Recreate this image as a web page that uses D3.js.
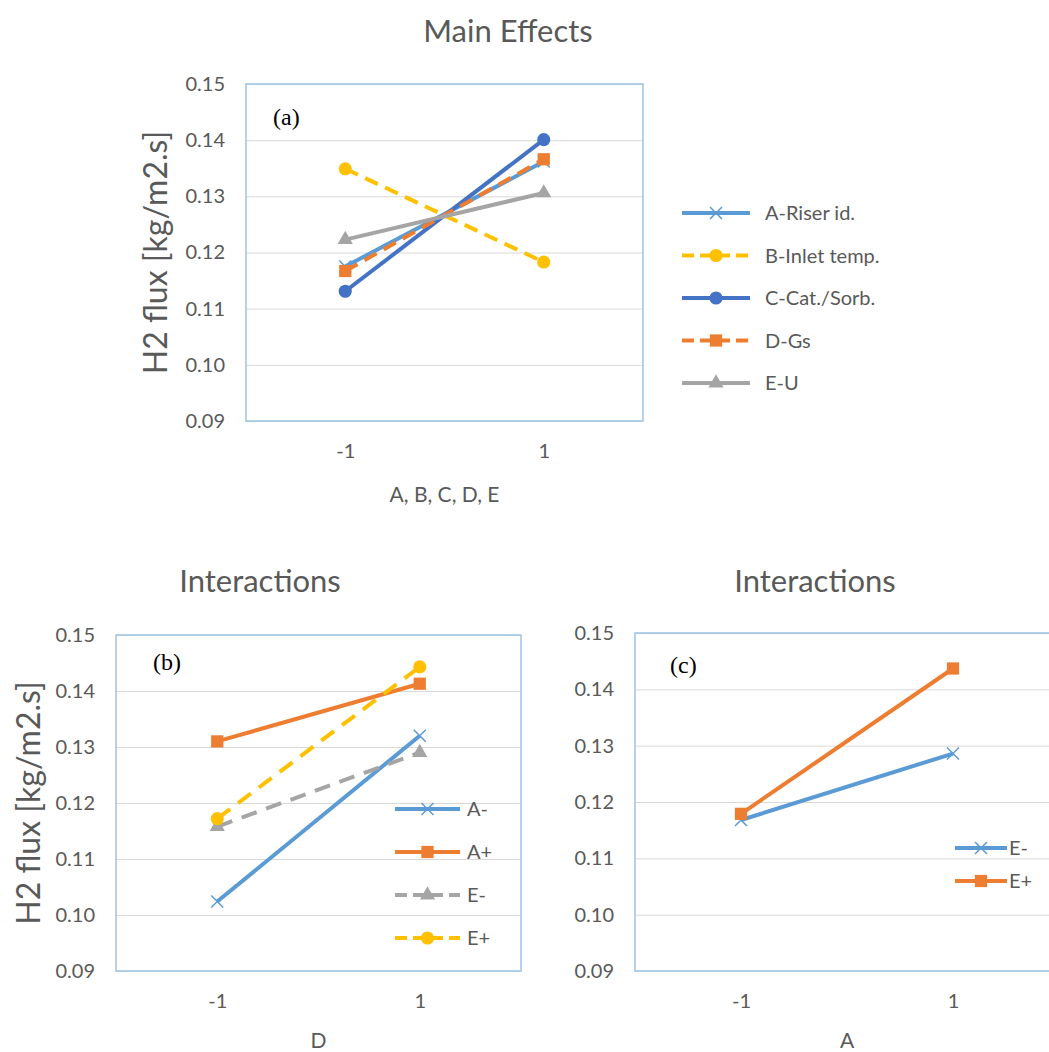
<!DOCTYPE html>
<html>
<head>
<meta charset="utf-8">
<script src="https://cdn.jsdelivr.net/npm/d3@7"></script>
<style>
  html, body { margin: 0; padding: 0; background: #fff; overflow: hidden; }
  svg { display: block; font-family: Lato, "Open Sans", sans-serif; }
</style>
</head>
<body>
<svg id="chart" width="1049" height="1052"></svg>
<script>
"use strict";

// factor levels and y ticks
var levels = ["-1", "1"];
var yTicks = [0.09, 0.10, 0.11, 0.12, 0.13, 0.14, 0.15];

// (a) main effects
var mainNames = ["A-Riser id.", "B-Inlet temp.", "C-Cat./Sorb.", "D-Gs", "E-U"];
var mainRiser = [0.1175, 0.1362];
var mainInlet = [0.1349, 0.1183];
var mainCatSorb = [0.1131, 0.1401];
var mainGs = [0.1167, 0.1366];
var mainU = [0.1223, 0.1306];

// (b) interactions vs D
var interDNames = ["A-", "A+", "E-", "E+"];
var dAminus = [0.1024, 0.1320];
var dAplus = [0.1310, 0.1413];
var dEminus = [0.1158, 0.1290];
var dEplus = [0.1172, 0.1443];

// (c) interactions vs A
var interANames = ["E-", "E+"];
var aEminus = [0.1168, 0.1286];
var aEplus = [0.1179, 0.1437];

var textGrey = "#595959";
var svg = d3.select("#chart");

function xMarker(g, size, color) {
	var h = size / 2;
	g.append("path")
		.attr("d", "M" + (-h) + "," + (-h) + "L" + h + "," + h + "M" + (-h) + "," + h + "L" + h + "," + (-h))
		.attr("stroke", color)
		.attr("stroke-width", 1.5)
		.attr("fill", "none");
}

function drawMarker(g, type, color) {
	if (type === "x") {
		xMarker(g, 12, color);
		return;
	}
	var sym = { circle: d3.symbolCircle, square: d3.symbolSquare, triangle: d3.symbolTriangle }[type];
	var sz = { circle: 135, square: 150, triangle: 100 }[type];
	g.append("path")
		.attr("d", d3.symbol().type(sym).size(sz)())
		.attr("fill", color);
}

function drawPanel(p) {
	var x = d3.scalePoint().domain(levels).range([p.left, p.right]).padding(0.5);
	var y = d3.scaleLinear().domain([0.09, 0.15]).range([p.bottom, p.top]);
	var g = svg.append("g");

	// gridlines
	g.append("g")
		.attr("transform", "translate(" + p.left + ",0)")
		.call(d3.axisLeft(y).tickValues(yTicks).tickSize(-(p.right - p.left)).tickFormat(""))
		.call(function (s) {
			s.select(".domain").remove();
			s.selectAll("line").attr("stroke", "#d9d9d9").attr("stroke-width", 1);
		});

	// frame
	g.append("rect")
		.attr("x", p.left).attr("y", p.top)
		.attr("width", p.right - p.left).attr("height", p.bottom - p.top)
		.attr("fill", "none")
		.attr("stroke", "#9dc3e6")
		.attr("stroke-width", 1.5);

	// y tick labels
	g.append("g")
		.attr("transform", "translate(" + p.tickX + ",0)")
		.call(d3.axisLeft(y).tickValues(yTicks).tickSize(0).tickPadding(0).tickFormat(d3.format(".2f")))
		.call(function (s) {
			s.select(".domain").remove();
			s.selectAll("text").attr("fill", textGrey).style("font-size", "20px").style("font-family", "Lato");
		});

	// x tick labels
	g.append("g")
		.attr("transform", "translate(0," + (p.bottom + 23) + ")")
		.call(d3.axisBottom(x).tickSize(0).tickPadding(0))
		.call(function (s) {
			s.select(".domain").remove();
			s.selectAll("text").attr("fill", textGrey).style("font-size", "20px").style("font-family", "Lato");
		});

	// x title
	g.append("text")
		.attr("x", (p.left + p.right) / 2)
		.attr("y", p.xTitleY)
		.attr("text-anchor", "middle")
		.attr("fill", textGrey)
		.style("font-size", "21px")
		.text(p.xTitle);

	// chart title
	g.append("text")
		.attr("x", p.titleX)
		.attr("y", p.titleY)
		.attr("text-anchor", "middle")
		.attr("fill", textGrey)
		.style("font-size", "31px")
		.text(p.title);

	// y title
	if (p.yTitleX) {
		g.append("text")
			.attr("transform", "translate(" + p.yTitleX + "," + ((p.top + p.bottom) / 2) + ") rotate(-90)")
			.attr("text-anchor", "middle")
			.attr("dy", "0.35em")
			.attr("fill", textGrey)
			.style("font-size", "32px")
			.text("H2 flux [kg/m2.s]");
	}

	// panel tag
	g.append("text")
		.attr("x", p.tagX).attr("y", p.tagY)
		.attr("fill", "#000")
		.style("font-family", "'Liberation Serif', serif")
		.style("font-size", "24px")
		.text(p.tag);

	var line = d3.line()
		.x(function (d, i) { return x(levels[i]); })
		.y(function (d) { return y(d); });

	p.series.forEach(function (s) {
		g.append("path")
			.datum(s.values)
			.attr("d", line)
			.attr("fill", "none")
			.attr("stroke", s.color)
			.attr("stroke-width", 4)
			.attr("stroke-dasharray", s.dash || null);
		s.values.forEach(function (v, i) {
			var m = g.append("g").attr("transform", "translate(" + x(levels[i]) + "," + y(v) + ")");
			drawMarker(m, s.marker, s.color);
		});
	});

	// legend
	p.series.forEach(function (s, i) {
		var ly = p.legY + i * p.legStep;
		var lg = g.append("g");
		lg.append("line")
			.attr("x1", p.legX0).attr("x2", p.legX1)
			.attr("y1", ly).attr("y2", ly)
			.attr("stroke", s.color)
			.attr("stroke-width", 4)
			.attr("stroke-dasharray", s.dash ? "12,6" : null);
		var m = lg.append("g").attr("transform", "translate(" + ((p.legX0 + p.legX1) / 2) + "," + ly + ")");
		drawMarker(m, s.marker, s.color);
		lg.append("text")
			.attr("x", p.legTextX).attr("y", ly)
			.attr("dy", "0.35em")
			.attr("fill", textGrey)
			.style("font-size", "20px")
			.text(s.name);
	});
}

drawPanel({
	left: 246, top: 84, right: 643, bottom: 421,
	tickX: 225, xTitle: "A, B, C, D, E", xTitleY: 502,
	title: "Main Effects", titleX: 508, titleY: 42,
	yTitleX: 156, tag: "(a)", tagX: 273, tagY: 125,
	legX0: 682, legX1: 750, legTextX: 765, legY: 213, legStep: 42.5,
	series: [
		{ name: mainNames[0], values: mainRiser, color: "#5b9bd5", marker: "x" },
		{ name: mainNames[1], values: mainInlet, color: "#ffc000", marker: "circle", dash: "14,8" },
		{ name: mainNames[2], values: mainCatSorb, color: "#4472c4", marker: "circle" },
		{ name: mainNames[3], values: mainGs, color: "#ed7d31", marker: "square", dash: "14,8" },
		{ name: mainNames[4], values: mainU, color: "#a5a5a5", marker: "triangle" }
	]
});

drawPanel({
	left: 116, top: 635, right: 521, bottom: 971,
	tickX: 95, xTitle: "D", xTitleY: 1048,
	title: "Interactions", titleX: 260, titleY: 592,
	yTitleX: 29, tag: "(b)", tagX: 153, tagY: 670,
	legX0: 395, legX1: 460, legTextX: 467, legY: 809, legStep: 43,
	series: [
		{ name: interDNames[0], values: dAminus, color: "#5b9bd5", marker: "x" },
		{ name: interDNames[1], values: dAplus, color: "#ed7d31", marker: "square" },
		{ name: interDNames[2], values: dEminus, color: "#a5a5a5", marker: "triangle", dash: "16,10" },
		{ name: interDNames[3], values: dEplus, color: "#ffc000", marker: "circle", dash: "16,10" }
	]
});

drawPanel({
	left: 635, top: 633, right: 1059, bottom: 971,
	tickX: 614, xTitle: "A", xTitleY: 1048,
	title: "Interactions", titleX: 815, titleY: 592,
	yTitleX: null, tag: "(c)", tagX: 670, tagY: 673,
	legX0: 955, legX1: 1007, legTextX: 1009, legY: 848, legStep: 33,
	series: [
		{ name: interANames[0], values: aEminus, color: "#5b9bd5", marker: "x" },
		{ name: interANames[1], values: aEplus, color: "#ed7d31", marker: "square" }
	]
});
</script>
</body>
</html>
